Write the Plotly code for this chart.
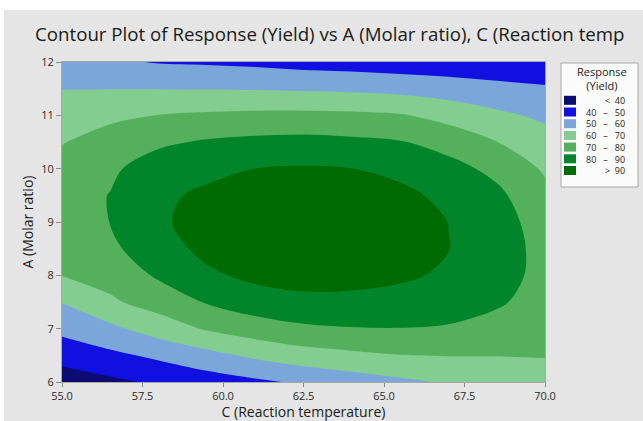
import plotly.graph_objects as go

# ---- data ----
temps = [55.0, 56.5, 58.0, 59.5, 61.0, 62.5, 64.0, 65.5, 67.0, 68.5, 70.0]   # C (Reaction temperature)
molar = [6.0, 6.5, 7.0, 7.5, 8.0, 8.5, 9.0, 9.5, 10.0, 10.5, 11.0, 11.5, 12.0]  # A (Molar ratio)

y_6_0  = [34.6, 38.0, 41.5, 45.0, 48.2, 51.5, 55.0, 58.1, 61.0, 62.5, 65.5]
y_6_5  = [43.9, 47.8, 52.0, 56.9, 62.0, 65.8, 68.0, 69.8, 70.3, 70.3, 70.5]
y_7_0  = [52.6, 57.8, 64.6, 71.0, 75.2, 78.3, 79.5, 79.8, 79.0, 76.2, 73.7]
y_7_5  = [60.4, 68.5, 74.3, 80.7, 85.4, 87.5, 87.4, 86.3, 84.9, 81.4, 75.7]
y_8_0  = [70.2, 73.7, 81.3, 88.3, 92.3, 93.9, 93.4, 91.6, 88.5, 84.5, 76.6]
y_8_5  = [74.1, 78.1, 85.8, 92.5, 96.0, 97.3, 96.6, 94.2, 90.2, 85.6, 76.3]
y_9_0  = [75.9, 80.15, 88.6, 93.6, 96.8, 97.9, 97.1, 94.4, 89.9, 84.8, 74.9]
y_9_5  = [75.8, 80.3, 88.0, 91.9, 94.9, 95.8, 94.9, 92.3, 87.6, 82.2, 72.4]
y_10_0 = [73.6, 78.5, 84.4, 87.3, 90.05, 90.9, 90.1, 87.5, 83.4, 77.4, 68.8]
y_10_5 = [69.5, 74.0, 78.4, 81.0, 82.4, 83.0, 82.0, 80.6, 76.2, 70.1, 64.0]
y_11_0 = [64.7, 68.0, 70.2, 71.5, 72.2, 72.4, 72.0, 70.8, 66.6, 62.1, 58.1]
y_11_5 = [59.8, 59.8, 59.8, 59.6, 59.3, 58.8, 58.1, 56.8, 54.9, 52.7, 51.1]
y_12_0 = [54.0, 51.5, 49.4, 48.8, 47.8, 46.3, 45.5, 44.5, 44.0, 43.6, 42.9]

yield_grid = [y_6_0, y_6_5, y_7_0, y_7_5, y_8_0, y_8_5, y_9_0, y_9_5,
              y_10_0, y_10_5, y_11_0, y_11_5, y_12_0]

levels = [40, 50, 60, 70, 80, 90]
band_colors = ["#0c0c74", "#1010e0", "#7aa6da", "#82cd8f", "#55b05e", "#00852a", "#006b00"]
legend_low = ["<", "40", "50", "60", "70", "80", ">"]
legend_high = ["40", "50", "60", "70", "80", "90", "90"]

x_ticks = [55.0, 57.5, 60.0, 62.5, 65.0, 67.5, 70.0]
x_ticktext = ["55.0", "57.5", "60.0", "62.5", "65.0", "67.5", "70.0"]
y_ticks = [6, 7, 8, 9, 10, 11, 12]

# ---- layout geometry ----
W, H = 643, 421
PL, PR, PT, PB = 62, 545, 62, 382


def px(x):
    return (x - PL) / (PR - PL)


def py(y):
    return (PB - y) / (PB - PT)


n = len(band_colors)
cscale = []
for k, c in enumerate(band_colors):
    lo = max(0.0, (k - 0.5) / (n - 1))
    hi = min(1.0, (k + 0.5) / (n - 1))
    cscale.append([lo, c])
    cscale.append([hi, c])

fig = go.Figure()
fig.add_trace(go.Contour(
    x=temps, y=molar, z=yield_grid,
    autocontour=False,
    contours=dict(start=levels[0], end=levels[-1], size=levels[1] - levels[0], coloring="fill"),
    colorscale=cscale,
    line=dict(width=0, smoothing=1.0),
    showscale=False,
    hoverinfo="x+y+z",
))

FONT = "Open Sans"
NB = "\u00a0"
shapes = [
    # white outer strips of the screenshot
    dict(type="rect", xref="paper", yref="paper", x0=px(0), x1=px(W), y0=py(10), y1=py(0),
         fillcolor="white", line=dict(width=0), layer="below"),
    dict(type="rect", xref="paper", yref="paper", x0=px(0), x1=px(4), y0=py(H), y1=py(0),
         fillcolor="white", line=dict(width=0), layer="below"),
    # legend box
    dict(type="rect", xref="paper", yref="paper", x0=px(561), x1=px(638), y0=py(187), y1=py(63),
         fillcolor="#fbfbfb", line=dict(color="#a8a8a8", width=1)),
]
annotations = [
    dict(text="Response<br>(Yield)", x=px(602), y=py(78), xref="paper", yref="paper", showarrow=False,
         font=dict(family=FONT, size=11, color="#1a1a1a"), xanchor="center", yanchor="middle"),
]
LS = 9 * 1.3          # line spacing of the legend text block
mid = 135.4
lines = []
for i, c in enumerate(band_colors):
    yc = mid + (i - 3) * LS
    shapes.append(dict(type="rect", xref="paper", yref="paper", x0=px(564), x1=px(576),
                       y0=py(yc + 4.5), y1=py(yc - 4.5), fillcolor=c, line=dict(width=0)))
    if legend_low[i] in ("<", ">"):
        lines.append(legend_low[i] + NB * 2 + legend_high[i])
    else:
        lines.append(legend_low[i] + NB * 3 + "–" + NB * 3 + legend_high[i])
annotations.append(dict(text="<br>".join(lines), x=px(627), y=py(mid), xref="paper", yref="paper",
                        showarrow=False, align="right", xanchor="right", yanchor="middle",
                        font=dict(family=FONT, size=9, color="#222")))

fig.update_layout(
    width=W, height=H,
    margin=dict(l=PL, r=W - PR, t=PT, b=H - PB, pad=0, autoexpand=False),
    paper_bgcolor="#e5e5e5", plot_bgcolor="#e5e5e5",
    title=dict(text="Contour Plot of Response (Yield) vs A (Molar ratio), C (Reaction temp",
               x=35 / W, xanchor="left", xref="container",
               y=1 - 34 / H, yanchor="middle", yref="container",
               font=dict(family=FONT, size=18.7, color="#1a1a1a")),
    xaxis=dict(range=[55, 70], tickvals=x_ticks, ticktext=x_ticktext, automargin=False,
               ticks="outside", ticklen=4, tickcolor="#8a8a8a",
               showline=True, mirror=True, linecolor="#a8a8a8", linewidth=1,
               showgrid=False, zeroline=False,
               tickfont=dict(family=FONT, size=11, color="#2a2a2a"),
               title=dict(text="C (Reaction temperature)", standoff=18,
                          font=dict(family=FONT, size=14, color="#1a1a1a"))),
    yaxis=dict(range=[6, 12], tickvals=y_ticks, automargin=False,
               ticks="outside", ticklen=5, tickcolor="#8a8a8a",
               showline=True, mirror=True, linecolor="#a8a8a8", linewidth=1,
               showgrid=False, zeroline=False,
               tickfont=dict(family=FONT, size=11, color="#2a2a2a"),
               title=dict(text="A (Molar ratio)", standoff=4,
                          font=dict(family=FONT, size=14, color="#1a1a1a"))),
    shapes=shapes,
    annotations=annotations,
    showlegend=False,
)

fig.write_html("out.html", config={"displayModeBar": False},
               post_script="document.body.style.margin='0';")
